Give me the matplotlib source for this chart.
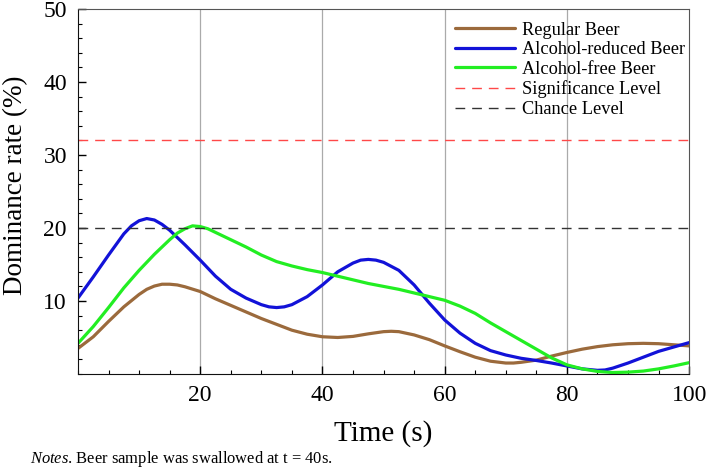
import matplotlib.pyplot as plt

plt.rcParams['font.family'] = ['Liberation Serif', 'DejaVu Serif']
plt.rcParams['mathtext.fontset'] = 'custom'
plt.rcParams['mathtext.rm'] = 'Liberation Serif'
plt.rcParams['mathtext.it'] = 'Liberation Serif:italic'

# values (time in s, dominance rate in %)
regular_t = [0, 2.5, 5, 7.5, 10, 11.25, 12.5, 13.75, 15, 16.25, 17.5, 20, 22.5, 25, 27.5,
             30, 32.5, 35, 37.5, 40, 42.5, 45, 47.5, 50, 51.25, 52.5, 55, 57.5, 60, 62.5,
             65, 67.5, 70, 71.25, 72.5, 75, 77.5, 80, 82.5, 85, 87.5, 90, 92.5, 95, 97.5, 100]
regular = [3.5, 5.1, 7.2, 9.2, 10.9, 11.6, 12.05, 12.3, 12.3, 12.2, 11.95, 11.3, 10.3, 9.4,
           8.5, 7.6, 6.8, 6.0, 5.45, 5.1, 5.0, 5.15, 5.5, 5.8, 5.85, 5.8, 5.35, 4.7, 3.85,
           3.05, 2.3, 1.75, 1.5, 1.5, 1.6, 1.9, 2.45, 2.95, 3.4, 3.75, 4.0, 4.15, 4.2, 4.15,
           4.0, 3.85]

reduced_t = [0, 2.5, 5, 7.5, 8.75, 10, 11.25, 12.5, 13.75, 15, 17.5, 20, 22.5, 25, 27.5,
             30, 31.25, 32.5, 33.75, 35, 37.5, 40, 42.5, 45, 46.25, 47.5, 48.75, 50, 52.5,
             55, 57.5, 60, 62.5, 65, 67.5, 70, 72.5, 75, 77.5, 80, 82.5, 85, 86.25, 87.5,
             90, 92.5, 95, 97.5, 100]
reduced = [10.4, 13.3, 16.3, 19.2, 20.3, 21.0, 21.3, 21.1, 20.5, 19.7, 17.7, 15.6, 13.4,
           11.6, 10.4, 9.5, 9.2, 9.1, 9.2, 9.5, 10.6, 12.2, 14.0, 15.2, 15.6, 15.7, 15.6,
           15.3, 14.2, 12.2, 9.7, 7.4, 5.6, 4.2, 3.2, 2.6, 2.15, 1.85, 1.5, 1.1, 0.7, 0.5,
           0.55, 0.8, 1.5, 2.3, 3.1, 3.7, 4.3]

free_t = [0, 2.5, 5, 7.5, 10, 12.5, 15, 16.25, 17.5, 18.75, 20, 21.25, 22.5, 25, 27.5, 30,
          32.5, 35, 37.5, 40, 42.5, 45, 47.5, 50, 52.5, 55, 57.5, 60, 62.5, 65, 67.5, 70,
          72.5, 75, 77.5, 80, 82.5, 85, 87.5, 90, 92.5, 95, 97.5, 100]
free = [4.2, 6.5, 9.1, 11.8, 14.2, 16.4, 18.4, 19.3, 19.9, 20.3, 20.2, 19.9, 19.4, 18.4,
        17.4, 16.3, 15.4, 14.8, 14.3, 13.9, 13.4, 12.9, 12.4, 12.0, 11.6, 11.1, 10.6, 10.1,
        9.3, 8.3, 7.0, 5.8, 4.6, 3.4, 2.2, 1.25, 0.7, 0.35, 0.2, 0.25, 0.4, 0.7, 1.1, 1.55]

significance = 32
chance = 20

fig = plt.figure(figsize=(7.09, 4.69), dpi=100)
ax = fig.add_axes([0.110, 0.2026, 0.862, 0.778])

for xg in [20, 40, 60, 80]:
    ax.axvline(xg, color='#aaaaaa', lw=0.9, zorder=0)

kw = dict(lw=2.3, solid_joinstyle='round', solid_capstyle='round')
ax.plot(regular_t, regular, color='#9b6a3c', label='Regular Beer', **kw)
ax.plot(reduced_t, reduced, color='#1212d8', label='Alcohol-reduced Beer', **kw)
ax.plot(free_t, free, color='#22ee22', label='Alcohol-free Beer', **kw)
ax.axhline(significance, color='#ff4848', lw=1.0, dashes=(7, 5), label='Significance Level')
ax.axhline(chance, color='#333333', lw=1.0, dashes=(7, 5), label='Chance Level')

ax.set_xlim(0, 100)
ax.set_ylim(0, 50)
ax.set_xticks([20, 40, 60, 80, 100])
ax.set_xticks(range(0, 101, 5), minor=True)
ax.set_yticks([10, 20, 30, 40, 50])
ax.set_yticks(range(0, 51, 2), minor=True)
ax.tick_params(which='major', direction='in', length=5.5, width=1, labelsize=17, pad=8)
ax.tick_params(which='minor', direction='in', length=2.8, width=0.8)
ax.tick_params(top=False, right=False, which='both')

ax.spines['left'].set_color('#111111')
ax.spines['bottom'].set_color('#111111')
ax.spines['top'].set_color('#555555')
ax.spines['right'].set_color('#555555')

ax.set_xlabel('Time (s)', fontsize=21, labelpad=10)
ax.set_ylabel('Dominance rate (%)', fontsize=19.5)
ax.yaxis.set_label_coords(-0.082, 0.518)

ax.legend(loc='upper left', bbox_to_anchor=(0.617, 0.966), frameon=False, fontsize=13.2,
          handlelength=3.27, handletextpad=0.4, labelspacing=0.145, borderpad=0,
          borderaxespad=0)

fig.text(0.042, 0.012, r'$\it{Notes}$. Beer sample was swallowed at t = 40s.', fontsize=11.9)
fig.savefig('out.png', dpi=100)
